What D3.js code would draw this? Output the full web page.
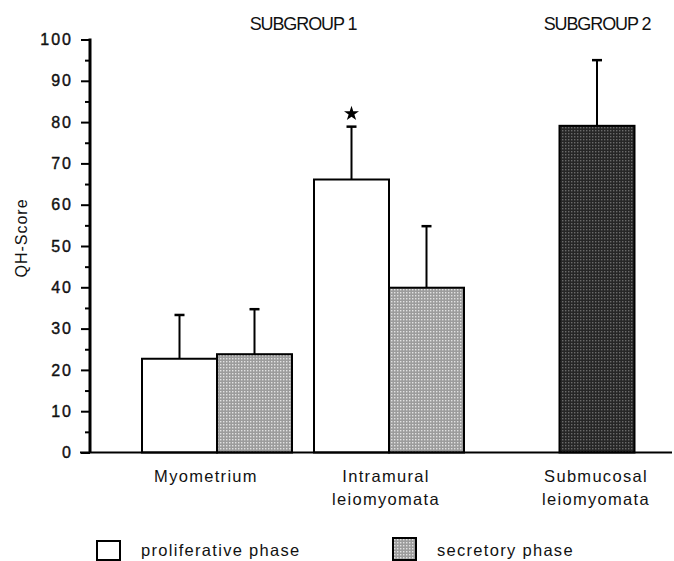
<!DOCTYPE html>
<html>
<head>
<meta charset="utf-8">
<script src="https://cdn.jsdelivr.net/npm/d3@7"></script>
<style>
  body { margin: 0; background: #fff; }
  svg { display: block; font-family: "Liberation Sans", Arial, sans-serif; }
</style>
</head>
<body>
<div id="chart"></div>
<script>
// QH-Score by tissue and cycle phase

const categories = ["Myometrium", "Intramural leiomyomata", "Submucosal leiomyomata"];
const categoryLines = [["Myometrium"], ["Intramural", "leiomyomata"], ["Submucosal", "leiomyomata"]];
const subgroups = ["SUBGROUP 1", "SUBGROUP 2"];

const barCategory = ["Myometrium", "Myometrium", "Intramural leiomyomata", "Intramural leiomyomata", "Submucosal leiomyomata"];
const barSeries = ["proliferative", "secretory", "proliferative", "secretory", "all"];
const barMean = [22.7, 23.8, 66.1, 39.9, 79.1];
const barSD = [10.6, 10.9, 12.8, 14.9, 15.9];
const barStar = [false, false, true, false, false];

const legendLabels = ["proliferative phase", "secretory phase"];
const yTicks = [0, 10, 20, 30, 40, 50, 60, 70, 80, 90, 100];

const width = 674, height = 561;

const svg = d3.select("#chart")
    .append("svg")
    .attr("width", width)
    .attr("height", height);

svg.append("rect").attr("width", width).attr("height", height).attr("fill", "#fff");

// stipple fills
const defs = svg.append("defs");
function stipple(id, base, dot) {
    const p = defs.append("pattern")
        .attr("id", id)
        .attr("width", 3).attr("height", 3)
        .attr("patternUnits", "userSpaceOnUse");
    p.append("rect").attr("width", 3).attr("height", 3).attr("fill", base);
    p.append("rect").attr("x", 1).attr("y", 1).attr("width", 1.4).attr("height", 1.4).attr("fill", dot);
}
stipple("light", "#9c9c9c", "#e2e2e2");
stipple("dark", "#262626", "#6a6a6a");

const fills = {proliferative: "#fff", secretory: "url(#light)", all: "url(#dark)"};

const y = d3.scaleLinear().domain([0, 100]).range([452.5, 39.5]);

// group centres
const x = d3.scaleOrdinal().domain(categories).range([217, 389, 597]);
const barW = 75;
const inner = d3.scaleBand().domain(["proliferative", "secretory"]).range([-barW, barW]);

function barX(i) {
    if (barSeries[i] === "all") return x(barCategory[i]) - barW / 2;
    return x(barCategory[i]) + inner(barSeries[i]);
}

const bars = d3.range(barMean.length);

// error bars (drawn first, bar tops cover the base)
svg.append("g").selectAll("line")
    .data(bars)
    .join("line")
    .attr("x1", i => barX(i) + barW / 2)
    .attr("x2", i => barX(i) + barW / 2)
    .attr("y1", i => y(barMean[i]))
    .attr("y2", i => y(barMean[i] + barSD[i]))
    .attr("stroke", "#000")
    .attr("stroke-width", 2);

svg.append("g").selectAll("line")
    .data(bars)
    .join("line")
    .attr("x1", i => barX(i) + barW / 2 - 5)
    .attr("x2", i => barX(i) + barW / 2 + 5)
    .attr("y1", i => y(barMean[i] + barSD[i]))
    .attr("y2", i => y(barMean[i] + barSD[i]))
    .attr("stroke", "#000")
    .attr("stroke-width", 2.5);

svg.append("g").selectAll("rect")
    .data(bars)
    .join("rect")
    .attr("x", i => barX(i))
    .attr("y", i => y(barMean[i]))
    .attr("width", barW)
    .attr("height", i => y(0) - y(barMean[i]))
    .attr("fill", i => fills[barSeries[i]])
    .attr("stroke", "#000")
    .attr("stroke-width", 2);

// significance star
svg.append("g").selectAll("path")
    .data(bars.filter(i => barStar[i]))
    .join("path")
    .attr("d", d3.symbol(d3.symbolStar, 70))
    .attr("transform", i => `translate(${barX(i) + barW / 2},${y(barMean[i] + barSD[i]) - 13})`)
    .attr("fill", "#000");

// y axis
const yAxis = svg.append("g")
    .attr("transform", "translate(90,0)")
    .call(d3.axisLeft(y).tickValues(yTicks).tickSize(9).tickPadding(8))
    .call(g => g.select(".domain").remove());
yAxis.selectAll(".tick line").attr("stroke-width", 2);
yAxis.selectAll(".tick text")
    .attr("font-size", 16)
    .attr("font-family", "Liberation Sans, Arial, sans-serif")
    .attr("fill", "#111")
    .attr("stroke", "#111")
    .attr("stroke-width", 0.4)
    .attr("letter-spacing", 2);

svg.append("g")
    .attr("transform", "translate(90,0)")
    .call(d3.axisLeft(y).tickValues(yTicks.slice(0, -1).map(v => v + 5)).tickSize(5).tickFormat(""))
    .call(g => g.select(".domain").remove())
    .selectAll(".tick line").attr("stroke-width", 2);

svg.append("line")
    .attr("x1", 90).attr("x2", 90)
    .attr("y1", y(100) - 1).attr("y2", y(0))
    .attr("stroke", "#000").attr("stroke-width", 3);

svg.append("line")
    .attr("x1", 80).attr("x2", 672)
    .attr("y1", y(0)).attr("y2", y(0))
    .attr("stroke", "#000").attr("stroke-width", 2);

// y label
svg.append("text")
    .attr("transform", "translate(27,238) rotate(-90)")
    .attr("text-anchor", "middle")
    .attr("font-size", 16)
    .attr("letter-spacing", 1)
    .attr("fill", "#111")
    .text("QH-Score");

// category labels
const labelDx = [-11, -3, -1];
categories.forEach((c, k) => {
    const t = svg.append("text")
        .attr("text-anchor", "middle")
        .attr("font-size", 16.5)
        .attr("letter-spacing", 1.3)
        .attr("fill", "#111");
    categoryLines[k].forEach((line, j) => {
        t.append("tspan")
            .attr("x", x(c) + labelDx[k])
            .attr("y", 482 + j * 23)
            .text(line);
    });
});

// subgroup headers
const subX = [(x(categories[0]) + x(categories[1])) / 2, x(categories[2])];
svg.append("g").selectAll("text")
    .data(subgroups)
    .join("text")
    .attr("x", (d, i) => subX[i])
    .attr("y", 30)
    .attr("text-anchor", "middle")
    .attr("font-size", 18)
    .attr("letter-spacing", -1.1)
    .attr("fill", "#111")
    .text(d => d);

// legend
const legendX = [97, 393];
const legendY = [541, 538];
const legendFill = [fills.proliferative, fills.secretory];
const legend = svg.append("g").selectAll("g")
    .data(legendLabels)
    .join("g")
    .attr("transform", (d, i) => `translate(${legendX[i]},${legendY[i]})`);

legend.append("rect")
    .attr("width", 23)
    .attr("height", (d, i) => i === 0 ? 19 : 22)
    .attr("fill", (d, i) => legendFill[i])
    .attr("stroke", "#000")
    .attr("stroke-width", 2);

legend.append("text")
    .attr("x", 44)
    .attr("y", (d, i) => i === 0 ? 15 : 18)
    .attr("font-size", 16.5)
    .attr("letter-spacing", 1.3)
    .attr("fill", "#111")
    .text(d => d);
</script>
</body>
</html>
